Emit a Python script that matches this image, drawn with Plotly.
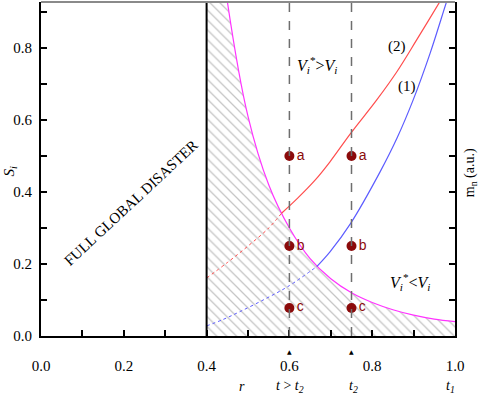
import plotly.graph_objects as go

# ---- data ----
mag_x = [0.40, 0.42, 0.45, 0.50, 0.55, 0.60, 0.65, 0.70, 0.75, 0.80, 0.85, 0.90, 0.95, 1.00]
mag_y = [1.50, 1.22, 0.93, 0.61, 0.42, 0.30, 0.215, 0.159, 0.12, 0.093, 0.073, 0.058, 0.047, 0.040]

red_dot_x = [0.40, 0.45, 0.50, 0.55, 0.581]
red_dot_y = [0.161, 0.204, 0.250, 0.300, 0.341]
red_x = [0.581, 0.62, 0.662, 0.698, 0.748, 0.811, 0.86, 0.907, 0.964, 1.0]
red_y = [0.341, 0.383, 0.433, 0.484, 0.563, 0.656, 0.735, 0.822, 0.930, 1.0]

blue_dot_x = [0.40, 0.44, 0.481, 0.545, 0.60, 0.666]
blue_dot_y = [0.028, 0.046, 0.068, 0.105, 0.140, 0.193]
blue_x = [0.666, 0.698, 0.748, 0.819, 0.86, 0.899, 0.94, 0.98, 1.0]
blue_y = [0.193, 0.234, 0.313, 0.456, 0.550, 0.656, 0.786, 0.930, 1.0]

pts_x = [0.6, 0.75, 0.6, 0.75, 0.6, 0.75]
pts_y = [0.5, 0.5, 0.25, 0.25, 0.078, 0.078]
pts_lbl = ["a", "a", "b", "b", "c", "c"]

marks_x = [0.6, 0.75]
bottom_lbl_x = [0.485, 0.602, 0.754, 0.99]
bottom_lbl = ["<i>r</i>", "<i>t</i> &gt; <i>t</i><sub><i>2</i></sub>",
              "<i>t</i><sub><i>2</i></sub>", "<i>t</i><sub><i>1</i></sub>"]

SERIF = "Liberation Serif, Times New Roman, serif"
YMAX = 0.928

fig = go.Figure()

# hatched region below the magenta boundary
fig.add_trace(go.Scatter(
    x=mag_x, y=mag_y, mode="lines", line=dict(color="#ff33ff", width=1.2, shape="spline"),
    fill="tozeroy", fillcolor="rgba(0,0,0,0)",
    fillpattern=dict(shape="\\", fgcolor="#8c8c8c", bgcolor="white", size=7, solidity=0.18),
    hoverinfo="skip", showlegend=False))

fig.add_trace(go.Scatter(x=red_dot_x, y=red_dot_y, mode="lines",
                         line=dict(color="#ff4d4d", width=1, dash="dot", shape="spline"), showlegend=False))
fig.add_trace(go.Scatter(x=red_x, y=red_y, mode="lines",
                         line=dict(color="#ff4d4d", width=1.2, shape="spline"), showlegend=False))
fig.add_trace(go.Scatter(x=blue_dot_x, y=blue_dot_y, mode="lines",
                         line=dict(color="#5c5cff", width=1, dash="dot", shape="spline"), showlegend=False))
fig.add_trace(go.Scatter(x=blue_x, y=blue_y, mode="lines",
                         line=dict(color="#5c5cff", width=1.2, shape="spline"), showlegend=False))

fig.add_trace(go.Scatter(
    x=pts_x, y=pts_y, mode="markers+text", text=pts_lbl, textposition="middle right",
    marker=dict(color="#8b0a0a", size=10),
    textfont=dict(family="Liberation Sans", size=14, color="#8b0a0a"), showlegend=False))

# axis helper for right side ticks
fig.add_trace(go.Scatter(x=[0], y=[0], yaxis="y2", mode="markers", marker=dict(opacity=0),
                         showlegend=False, hoverinfo="skip"))

shapes = [
    dict(type="line", xref="x", yref="paper", x0=0.4, x1=0.4, y0=0, y1=1,
         line=dict(color="black", width=2)),
    dict(type="line", xref="paper", yref="paper", x0=0, x1=1, y0=1, y1=1,
         line=dict(color="#8a8a8a", width=2)),
]
for xv in marks_x:
    shapes.append(dict(type="line", xref="x", yref="paper", x0=xv, x1=xv, y0=0, y1=1,
                       line=dict(color="#6e6e6e", width=1.5, dash="dash"), layer="above"))

annotations = [
    dict(x=0.667, y=0.753, text="<i>V</i><sub><i>i</i></sub><sup>*</sup>&gt;<i>V</i><sub><i>i</i></sub>",
         showarrow=False, font=dict(family=SERIF, size=16, color="black")),
    dict(x=0.891, y=0.15, text="<i>V</i><sub><i>i</i></sub><sup>*</sup>&lt;<i>V</i><sub><i>i</i></sub>",
         showarrow=False, font=dict(family=SERIF, size=16, color="black")),
    dict(x=0.86, y=0.803, text="(2)", showarrow=False, font=dict(family=SERIF, size=15, color="black")),
    dict(x=0.884, y=0.694, text="(1)", showarrow=False, font=dict(family=SERIF, size=15, color="black")),
    dict(x=0.217, y=0.369, text="FULL GLOBAL DISASTER", textangle=-43, showarrow=False,
         font=dict(family=SERIF, size=15, color="black")),
    dict(xref="paper", yref="paper", x=-0.075, xanchor="center", y=0.495, yanchor="middle",
         text="<i>S</i><sub><i>i</i></sub>",
         textangle=-90, showarrow=False, font=dict(family=SERIF, size=15, color="black")),
    dict(xref="paper", yref="paper", x=1.036, xanchor="center", y=0.49, yanchor="middle",
         text="m<sub>n</sub> (a.u.)", textangle=-90, showarrow=False,
         font=dict(family=SERIF, size=14, color="black")),
]
for xv in marks_x:
    annotations.append(dict(x=xv, xref="x", yref="paper", y=-0.046, yanchor="middle",
                            text="▲", showarrow=False,
                            font=dict(family="DejaVu Sans", size=6, color="black")))
for xv, t in zip(bottom_lbl_x, bottom_lbl):
    annotations.append(dict(x=xv, xref="x", yref="paper", y=-0.152, yanchor="middle",
                            text=t, showarrow=False,
                            font=dict(family=SERIF, size=14, color="black")))

fig.update_layout(
    width=481, height=397,
    margin=dict(l=41, r=26, t=2, b=61, autoexpand=False),
    paper_bgcolor="white", plot_bgcolor="white",
    font=dict(family=SERIF, size=14, color="black"),
    xaxis=dict(range=[0, 1.0], tickvals=[0, 0.2, 0.4, 0.6, 0.8, 1.0],
               ticktext=["0.0", "0.2", "0.4", "0.6", "0.8", "1.0"],
               ticks="inside", ticklen=6, tickwidth=1.5, tickcolor="black",
               minor=dict(dtick=0.1, ticks="inside", ticklen=6, tickwidth=1.5, tickcolor="black"),
               showline=True, linecolor="black", linewidth=2, showgrid=False, zeroline=False,
               automargin=False,
               ticklabelstandoff=15, tickfont=dict(family=SERIF, size=15)),
    yaxis=dict(range=[0, YMAX], tickvals=[0, 0.2, 0.4, 0.6, 0.8],
               ticktext=["0.0", "0.2", "0.4", "0.6", "0.8"],
               ticks="inside", ticklen=6, tickwidth=1.5, tickcolor="black",
               minor=dict(dtick=0.1, ticks="inside", ticklen=6, tickwidth=1.5, tickcolor="black"),
               showline=True, linecolor="black", linewidth=2, showgrid=False, zeroline=False,
               automargin=False,
               ticklabelstandoff=4, tickfont=dict(family=SERIF, size=15)),
    yaxis2=dict(range=[0, YMAX], overlaying="y", side="right", dtick=0.1, showticklabels=False,
                ticks="inside", ticklen=6, tickwidth=1.5, tickcolor="black", automargin=False,
                showline=True, linecolor="black", linewidth=2, showgrid=False, zeroline=False),
    shapes=shapes, annotations=annotations,
)

fig.write_html("out.html", config={"displayModeBar": False},
               post_script="document.body.style.margin='0';")
